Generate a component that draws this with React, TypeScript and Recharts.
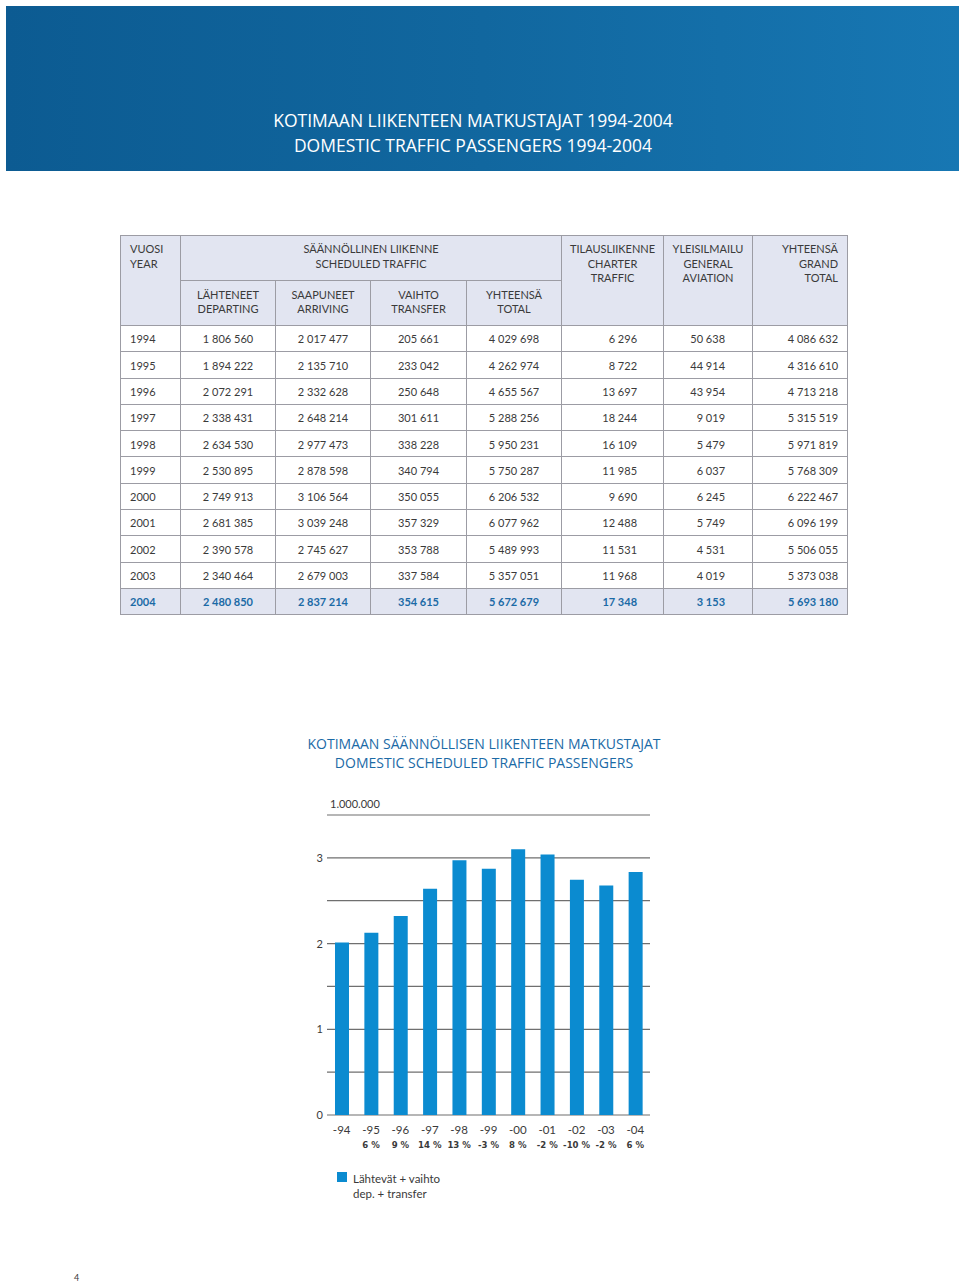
import { BarChart, Bar, XAxis, YAxis, CartesianGrid, Cell } from 'recharts'

const YEARS = ['1994', '1995', '1996', '1997', '1998', '1999', '2000', '2001', '2002', '2003', '2004']
const DEPARTING = [1806560, 1894222, 2072291, 2338431, 2634530, 2530895, 2749913, 2681385, 2390578, 2340464, 2480850]
const ARRIVING = [2017477, 2135710, 2332628, 2648214, 2977473, 2878598, 3106564, 3039248, 2745627, 2679003, 2837214]
const TRANSFER = [205661, 233042, 250648, 301611, 338228, 340794, 350055, 357329, 353788, 337584, 354615]
const SCHEDULED_TOTAL = [4029698, 4262974, 4655567, 5288256, 5950231, 5750287, 6206532, 6077962, 5489993, 5357051, 5672679]
const CHARTER = [6296, 8722, 13697, 18244, 16109, 11985, 9690, 12488, 11531, 11968, 17348]
const GENERAL_AVIATION = [50638, 44914, 43954, 9019, 5479, 6037, 6245, 5749, 4531, 4019, 3153]
const GRAND_TOTAL = [4086632, 4316610, 4713218, 5315519, 5971819, 5768309, 6222467, 6096199, 5506055, 5373038, 5693180]

const YEAR_TICKS = ['-94', '-95', '-96', '-97', '-98', '-99', '-00', '-01', '-02', '-03', '-04']
const CHANGE_LABELS = ['', '6 %', '9 %', '14 %', '13 %', '-3 %', '8 %', '-2 %', '-10 %', '-2 %', '6 %']
const Y_TICKS = [0, 0.5, 1, 1.5, 2, 2.5, 3, 3.5]

const BLUE = '#0b8bd0'
const TEXT = '#3a3a3a'
const HEAD_BG = '#e2e5f1'
const BORDER = '#9c9ca4'
const FONT = 'Lato, "Open Sans", sans-serif'
const TITLE_FONT = '"Open Sans", sans-serif'

const chartData = YEAR_TICKS.map((label, i) => ({
  label,
  change: CHANGE_LABELS[i],
  value: (DEPARTING[i] + TRANSFER[i]) / 1e6,
}))

const fmt = (n: number) => String(n).replace(/\B(?=(\d{3})+(?!\d))/g, ' ')

const COL_WIDTHS = [60, 95, 95, 96, 95, 102, 89, 95]

function YTick({ x, y, payload }: any) {
  const v = payload.value
  if (v === 3.5) {
    return <text x={x + 11} y={y - 7} fontSize={11} fill={TEXT} fontFamily={FONT}>1.000.000</text>
  }
  if (!Number.isInteger(v)) return null
  return <text x={x + 4} y={y + 4} textAnchor="end" fontSize={11} fill={TEXT} fontFamily={FONT}>{v}</text>
}

function XTick({ x, y, payload, index }: any) {
  return (
    <g>
      <text x={x} y={y + 11} textAnchor="middle" fontSize={11.5} fill={TEXT} fontFamily={FONT}>{payload.value}</text>
      <text x={x} y={y + 25} textAnchor="middle" fontSize={9.5} fontWeight={600} fill={TEXT}
        fontFamily='"Liberation Sans Narrow", "DejaVu Sans Condensed", sans-serif'>
        {CHANGE_LABELS[index]}
      </text>
    </g>
  )
}

const cell = (align: 'left' | 'center' | 'right', extra: any = {}) => ({
  border: `1px solid ${BORDER}`,
  padding: '0 9px',
  textAlign: align,
  ...extra,
})

export default function App() {
  return (
    <div style={{ position: 'absolute', left: 0, top: 0, width: 960, height: 1282, background: '#fff', fontFamily: FONT, color: TEXT }}>
      <div style={{
        position: 'absolute', left: 6, top: 6, width: 953, height: 165,
        background: 'linear-gradient(90deg, #0c5b92 0%, #11679f 50%, #1777b3 100%)',
      }} />
      <div style={{ position: 'absolute', left: 173, width: 600, top: 108, textAlign: 'center', color: '#fff', fontFamily: TITLE_FONT, fontSize: 17.5, lineHeight: '25px' }}>
        KOTIMAAN LIIKENTEEN MATKUSTAJAT 1994-2004<br />DOMESTIC TRAFFIC PASSENGERS 1994-2004
      </div>

      <table style={{
        position: 'absolute', left: 120, top: 235, width: 727, tableLayout: 'fixed',
        borderCollapse: 'collapse', fontSize: 11, lineHeight: '14.5px',
      }}>
        <colgroup>
          {COL_WIDTHS.map((w, i) => <col key={i} style={{ width: w }} />)}
        </colgroup>
        <tbody>
          <tr style={{ height: 45, background: HEAD_BG }}>
            <td rowSpan={2} style={cell('left', { verticalAlign: 'top', paddingTop: 6 })}>VUOSI<br />YEAR</td>
            <td colSpan={4} style={cell('center', { verticalAlign: 'top', paddingTop: 6 })}>SÄÄNNÖLLINEN LIIKENNE<br />SCHEDULED TRAFFIC</td>
            <td rowSpan={2} style={cell('center', { verticalAlign: 'top', padding: '6px 2px 0' })}>TILAUSLIIKENNE<br />CHARTER<br />TRAFFIC</td>
            <td rowSpan={2} style={cell('center', { verticalAlign: 'top', padding: '6px 2px 0' })}>YLEISILMAILU<br />GENERAL<br />AVIATION</td>
            <td rowSpan={2} style={cell('right', { verticalAlign: 'top', paddingTop: 6 })}>YHTEENSÄ<br />GRAND<br />TOTAL</td>
          </tr>
          <tr style={{ height: 45, background: HEAD_BG }}>
            <td style={cell('center', { paddingBottom: 2 })}>LÄHTENEET<br />DEPARTING</td>
            <td style={cell('center', { paddingBottom: 2 })}>SAAPUNEET<br />ARRIVING</td>
            <td style={cell('center', { paddingBottom: 2 })}>VAIHTO<br />TRANSFER</td>
            <td style={cell('center', { paddingBottom: 2 })}>YHTEENSÄ<br />TOTAL</td>
          </tr>
          {YEARS.map((year, i) => {
            const last = i === YEARS.length - 1
            const rowStyle = last ? { background: HEAD_BG, color: '#1b6aa6', fontWeight: 700 } : {}
            return (
              <tr key={year} style={{ height: 26.3, ...rowStyle }}>
                <td style={cell('left', { paddingTop: 2 })}>{year}</td>
                <td style={cell('center', { paddingTop: 2 })}>{fmt(DEPARTING[i])}</td>
                <td style={cell('center', { paddingTop: 2 })}>{fmt(ARRIVING[i])}</td>
                <td style={cell('center', { paddingTop: 2 })}>{fmt(TRANSFER[i])}</td>
                <td style={cell('center', { paddingTop: 2 })}>{fmt(SCHEDULED_TOTAL[i])}</td>
                <td style={cell('right', { paddingRight: 26, paddingTop: 2 })}>{fmt(CHARTER[i])}</td>
                <td style={cell('right', { paddingRight: 27, paddingTop: 2 })}>{fmt(GENERAL_AVIATION[i])}</td>
                <td style={cell('right', { paddingTop: 2 })}>{fmt(GRAND_TOTAL[i])}</td>
              </tr>
            )
          })}
        </tbody>
      </table>

      <div style={{ position: 'absolute', left: 234, width: 500, top: 734, textAlign: 'center', color: '#1b6aa6', fontFamily: TITLE_FONT, fontSize: 14, lineHeight: '19px' }}>
        KOTIMAAN SÄÄNNÖLLISEN LIIKENTEEN MATKUSTAJAT<br />DOMESTIC SCHEDULED TRAFFIC PASSENGERS
      </div>

      <div style={{ position: 'absolute', left: 290, top: 790 }}>
        <BarChart width={380} height={368} data={chartData} margin={{ top: 25, right: 20, left: 0, bottom: 0 }}>
          <CartesianGrid vertical={false} stroke="#6f6f6f" strokeWidth={1.2} />
          <XAxis dataKey="label" axisLine={false} tickLine={false} height={43} interval={0} tick={<XTick />} />
          <YAxis domain={[0, 3.5]} ticks={Y_TICKS} interval={0} axisLine={false} tickLine={false} width={37} tick={<YTick />} />
          <Bar dataKey="value" barSize={14} fill={BLUE} isAnimationActive={false}>
            {chartData.map((_, i) => <Cell key={i} fill={BLUE} />)}
          </Bar>
        </BarChart>
      </div>

      <div style={{ position: 'absolute', left: 337, top: 1172, width: 10, height: 10, background: BLUE }} />
      <div style={{ position: 'absolute', left: 353, top: 1171, fontSize: 11.5, lineHeight: '15px' }}>
        Lähtevät + vaihto<br />dep. + transfer
      </div>

      <div style={{ position: 'absolute', left: 74, top: 1272, fontSize: 9 }}>4</div>
    </div>
  )
}
